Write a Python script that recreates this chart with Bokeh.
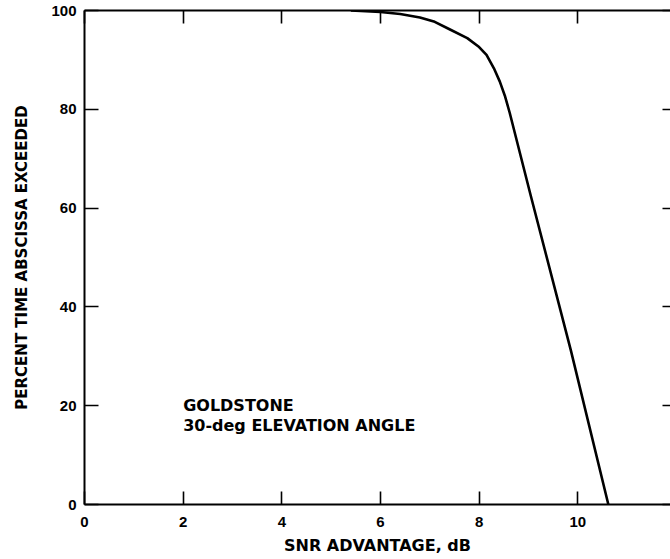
from bokeh.plotting import figure
from bokeh.models import Range1d, LinearAxis, FixedTicker, Label, ColumnDataSource
from bokeh.embed import file_html
from bokeh.resources import INLINE
from bokeh.core.properties import value

# ---- data ----
snr_db = [5.4, 6.0, 6.4, 6.8, 7.1, 7.4, 7.76, 8.0, 8.15, 8.3, 8.42, 8.52, 8.62, 9.05, 9.86, 10.62]
pct_time = [100.0, 99.7, 99.3, 98.6, 97.7, 96.2, 94.4, 92.6, 91.0, 88.3, 85.6, 82.8, 79.3, 62.4, 31.2, 0.0]

x_ticks = [0, 2, 4, 6, 8, 10, 12]
y_ticks = [0, 20, 40, 60, 80, 100]
note_lines = ["GOLDSTONE", "30-deg ELEVATION ANGLE"]
note_x = [2.0, 2.0]
note_y = [20.0, 16.0]

LABEL_FONT = "DejaVu Sans"
TICK_FONT = "Liberation Sans"

p = figure(width=670, height=559,
           x_range=Range1d(0, 11.88), y_range=Range1d(0, 100),
           output_backend="svg", toolbar_location=None,
           x_axis_location=None, y_axis_location=None,
           min_border_left=84, min_border_right=0,
           min_border_top=10, min_border_bottom=55)
p.outline_line_color = None
p.background_fill_color = "white"
p.border_fill_color = "white"
for g in p.grid:
    g.visible = False


def style(ax, tick_in=13):
    ax.axis_line_color = "black"
    ax.axis_line_width = 2
    ax.major_tick_in = tick_in
    ax.major_tick_out = 0
    ax.major_tick_line_width = 1.6
    ax.major_tick_line_color = "black"
    ax.minor_tick_line_color = None


left = LinearAxis(ticker=FixedTicker(ticks=y_ticks))
style(left, tick_in=14)
left.major_label_text_font = TICK_FONT
left.major_label_text_font_style = "bold"
left.major_label_text_font_size = "15px"
left.major_label_text_color = "black"
left.major_label_standoff = 8
left.axis_label = "PERCENT TIME ABSCISSA EXCEEDED"
left.axis_label_text_font = LABEL_FONT
left.axis_label_text_font_style = "bold"
left.axis_label_text_font_size = "15px"
left.axis_label_text_color = "black"
left.axis_label_standoff = 17
p.add_layout(left, "left")

bottom = LinearAxis(ticker=FixedTicker(ticks=x_ticks))
style(bottom)
bottom.major_label_text_font = TICK_FONT
bottom.major_label_text_font_style = "bold"
bottom.major_label_text_font_size = "15px"
bottom.major_label_text_color = "black"
bottom.major_label_standoff = 12
bottom.axis_label = "SNR ADVANTAGE, dB"
bottom.axis_label_text_font = LABEL_FONT
bottom.axis_label_text_font_style = "bold"
bottom.axis_label_text_font_size = "16px"
bottom.axis_label_text_color = "black"
bottom.axis_label_standoff = 6
p.add_layout(bottom, "below")

top = LinearAxis(ticker=FixedTicker(ticks=x_ticks))
style(top)
top.major_label_text_color = None
top.major_label_text_font_size = "1px"
top.major_label_standoff = 0
p.add_layout(top, "above")

right = LinearAxis(ticker=FixedTicker(ticks=y_ticks))
style(right, tick_in=8)
right.axis_line_color = None
right.major_label_text_color = None
right.major_label_text_font_size = "1px"
right.major_label_standoff = 0
p.add_layout(right, "right")

# tick label for 12 that falls just past the visible edge
p.add_layout(Label(x=x_ticks[-1], y=y_ticks[0], text=str(x_ticks[-1]),
                   x_units="data", y_units="data", y_offset=-12,
                   text_align="center", text_baseline="top",
                   text_font=TICK_FONT, text_font_style="bold",
                   text_font_size="15px", text_color="black"))

p.line(snr_db, pct_time, line_color="black", line_width=2.6)

src = ColumnDataSource(dict(x=note_x, y=note_y, t=note_lines))
p.text(x="x", y="y", text="t", source=src, text_font=value(LABEL_FONT),
       text_font_style="bold", text_font_size="16px", text_color="black",
       text_baseline="alphabetic", text_align="left")

open("out.html", "w").write(file_html(p, INLINE))
